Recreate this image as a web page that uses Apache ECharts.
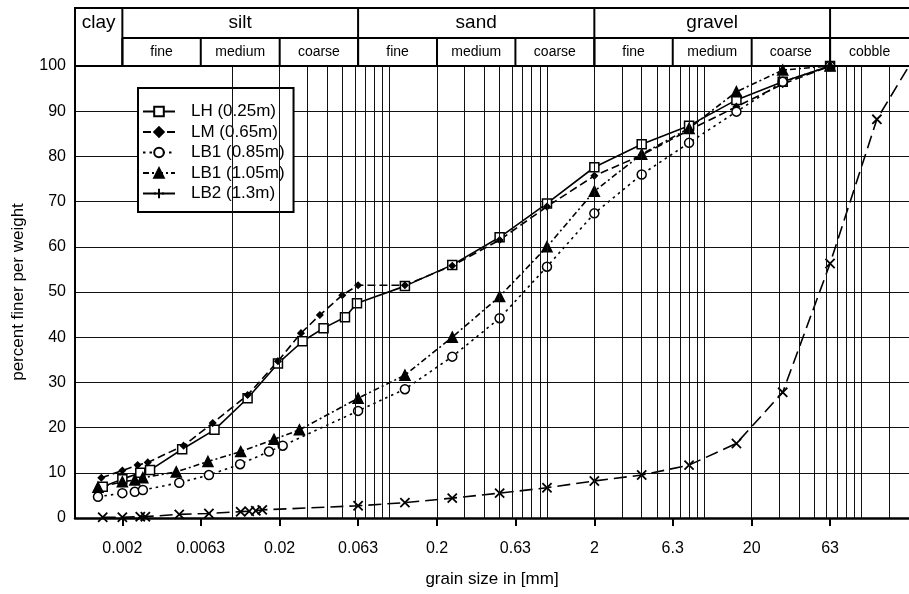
<!DOCTYPE html>
<html><head><meta charset="utf-8">
<script src="https://cdn.jsdelivr.net/npm/echarts@6/dist/echarts.min.js"></script>
<style>html,body{margin:0;padding:0;background:#fff}#c{width:909px;height:594px}</style>
</head><body><div id="c"></div>
<script>
// ---- axis ticks / grid ----
const tickValues = [0.002, 0.0063, 0.02, 0.063, 0.2, 0.63, 2, 6.3, 20, 63];
const tickLabels = ['0.002', '0.0063', '0.02', '0.063', '0.2', '0.63', '2', '6.3', '20', '63'];
const gridValues = [0.002,0.003,0.004,0.005,0.006,0.007,0.008,0.009,
  0.01,0.02,0.03,0.04,0.05,0.06,0.07,0.08,0.09,
  0.1,0.2,0.3,0.4,0.5,0.6,0.7,0.8,0.9,
  1,2,3,4,5,6,7,8,9,
  10,20,30,40,50,60,70,80,90,
  100,150];
// ---- header (soil classes) ----
const mainBounds = [0.002, 0.063, 2, 63];
const mainNames = ['silt', 'sand', 'gravel'];
const subBounds = [0.002, 0.0063, 0.02, 0.063, 0.2, 0.63, 2, 6.3, 20, 63];
const subNames = ['fine','medium','coarse','fine','medium','coarse','fine','medium','coarse'];

// ---- series ----
const lhX = [0.0015,0.002,0.0026,0.003,0.0048,0.0077,0.0125,0.0195,0.028,0.038,0.052,0.062,0.125,0.25,0.5,1,2,4,8,16,31.5,63];
const lhY = [6.9,8.6,10.0,10.6,15.2,19.5,26.5,34.2,39.1,42.0,44.4,47.5,51.3,56.0,62.1,69.6,77.6,82.7,86.8,92.5,96.5,100];

const lmX = [0.00147,0.002,0.0025,0.0029,0.0049,0.0075,0.0125,0.0195,0.0273,0.036,0.05,0.063,0.125,0.25,0.5,1,2,4,8,16,31.5,63];
const lmY = [8.9,10.5,11.7,12.3,16.0,21.0,27.2,34.7,40.9,44.9,49.3,51.5,51.5,55.8,61.5,68.9,75.7,80.3,85.8,91.0,96.0,100];

const lb1aX = [0.0014,0.002,0.0024,0.0027,0.0046,0.0071,0.0112,0.0171,0.0209,0.063,0.125,0.25,0.5,1,2,4,8,16,31.5,63];
const lb1aY = [4.7,5.5,5.8,6.2,7.8,9.5,11.9,14.7,16.0,23.7,28.5,35.7,44.2,55.6,67.4,76.0,83.0,89.9,96.5,100];

const lb1bX = [0.0014,0.002,0.0024,0.0027,0.0044,0.007,0.0113,0.0184,0.0267,0.063,0.125,0.25,0.5,1,2,4,8,16,31.5,63];
const lb1bY = [6.8,8.0,8.4,8.9,10.2,12.5,14.7,17.4,19.5,26.5,31.6,40.0,49.0,60.0,72.3,80.5,86.2,94.3,99.1,100];

const lb2X = [0.0015,0.002,0.0026,0.0028,0.0046,0.0071,0.0113,0.0128,0.0141,0.0155,0.063,0.125,0.25,0.5,1,2,4,8,16,31.5,63,125,200];
const lb2Y = [0.15,0.15,0.3,0.3,0.8,1.0,1.4,1.5,1.6,1.8,2.7,3.4,4.4,5.5,6.7,8.2,9.5,11.7,16.5,27.8,56.3,88.2,100];

const seriesNames = ['LH (0.25m)','LM (0.65m)','LB1 (0.85m)','LB1 (1.05m)','LB2 (1.3m)'];

const FONT = '"Liberation Sans", Arial, Helvetica, sans-serif';
const pairs = (xs, ys) => xs.map((x, i) => [x, ys[i]]);
const PLUS = 'path://M5,0L5,10M0,5L10,5';

function mk(name, data, lineType, symbol, size, fill, extra) {
  return Object.assign({
    name: name, type: 'line', data: data,
    symbol: symbol, symbolSize: size, showSymbol: true,
    lineStyle: { color: '#000', width: 1.6, type: lineType },
    itemStyle: { color: fill, borderColor: '#000', borderWidth: 1.5 },
    emphasis: { disabled: true },
    z: 3, animation: false
  }, extra || {});
}

// last LB2 point lies at the cropped right edge: draw line only
const lb2Data = pairs(lb2X, lb2Y).map((p, i) => i === lb2X.length - 1 ? { value: p, symbol: 'none' } : p);

const chart = echarts.init(document.getElementById('c'), null, { renderer: 'canvas' });

const option = {
  backgroundColor: '#fff',
  animation: false,
  grid: { left: 75, top: 66, width: 839, height: 452, containLabel: false },
  xAxis: {
    type: 'log', logBase: 10, min: 0.001, max: 200,
    name: 'grain size in [mm]', nameLocation: 'middle', nameGap: 53,
    nameTextStyle: { fontSize: 17, color: '#000', fontFamily: FONT },
    axisLine: { show: true, lineStyle: { color: '#000', width: 2.5 } },
    axisTick: { show: true, customValues: tickValues, length: 8, lineStyle: { color: '#000', width: 2 } },
    axisLabel: {
      customValues: tickValues, fontSize: 16, color: '#000', fontFamily: FONT, margin: 23,
      formatter: function (v) {
        for (let i = 0; i < tickValues.length; i++) if (Math.abs(tickValues[i] - v) / tickValues[i] < 1e-4) return tickLabels[i];
        return '';
      }
    },
    splitLine: { show: false }, minorTick: { show: false }, minorSplitLine: { show: false }
  },
  yAxis: {
    type: 'value', min: 0, max: 100, interval: 10,
    name: 'percent finer per weight', nameLocation: 'middle', nameGap: 48,
    nameTextStyle: { fontSize: 17, color: '#000', fontFamily: FONT },
    axisLine: { show: true, lineStyle: { color: '#000', width: 2 } },
    axisTick: { show: false },
    axisLabel: { fontSize: 16, color: '#000', fontFamily: FONT, margin: 9 },
    splitLine: { show: true, lineStyle: { color: '#111', width: 1 } }
  },
  legend: {
    orient: 'vertical', left: 138, top: 88,
    itemWidth: 32, itemHeight: 12, itemGap: 3.5,
    padding: [15, 9, 10, 4],
    backgroundColor: '#fff', borderColor: '#000', borderWidth: 2, borderRadius: 0,
    textStyle: { fontSize: 17, color: '#000', fontFamily: FONT, padding: [0, 0, 0, 11] },
    data: [seriesNames[0], seriesNames[1], seriesNames[2], seriesNames[3], { name: seriesNames[4], symbolRotate: 0 }]
  },
  series: [
    {
      type: 'line', data: [], silent: true, z: 1, animation: false,
      markLine: {
        silent: true, symbol: 'none', animation: false, label: { show: false },
        lineStyle: { color: '#111', width: 1, type: 'solid' },
        emphasis: { disabled: true },
        data: gridValues.map(v => ({ xAxis: v }))
      }
    },
    mk(seriesNames[0], pairs(lhX, lhY), 'solid', 'rect', 9, '#fff'),
    mk(seriesNames[1], pairs(lmX, lmY), [8, 4], 'diamond', 6, '#000'),
    mk(seriesNames[2], pairs(lb1aX, lb1aY), [2.5, 4], 'circle', 9, '#fff'),
    mk(seriesNames[3], pairs(lb1bX, lb1bY), [6, 3, 2, 3], 'triangle', 10, '#000'),
    mk(seriesNames[4], lb2Data, [13, 6], PLUS, 13, 'none', { symbolRotate: 45, itemStyle: { color: 'none', borderColor: '#000', borderWidth: 1.8 } })
  ]
};
chart.setOption(option);

// header table drawn with positions from the x axis scale
function px(v) { return chart.convertToPixel({ xAxisIndex: 0 }, v); }
const yTop = 8, yMid = 38, yBot = chart.convertToPixel({ yAxisIndex: 0 }, 100);
const xLeft = px(0.001), xRight = 930;
const L = (x1, y1, x2, y2) => ({ type: 'line', silent: true, z: 10, shape: { x1, y1, x2, y2 }, style: { stroke: '#000', lineWidth: 2 } });
const T = (text, x, y, size) => ({ type: 'text', silent: true, z: 11, style: { text, x, y, align: 'center', verticalAlign: 'middle', font: size + 'px ' + FONT, fill: '#000' } });
const g = [];
g.push(L(xLeft - 1, yTop, xRight, yTop));
g.push(L(px(mainBounds[0]), yMid, xRight, yMid));
g.push(L(xLeft - 1, yBot, xRight, yBot));
g.push(L(xLeft, yTop, xLeft, yBot));
mainBounds.forEach(b => g.push(L(px(b), yTop, px(b), yBot)));
subBounds.forEach(b => g.push(L(px(b), yMid, px(b), yBot)));
g.push(T('clay', (xLeft + px(mainBounds[0])) / 2, 23, 19));
mainNames.forEach((n, i) => g.push(T(n, (px(mainBounds[i]) + px(mainBounds[i + 1])) / 2, 23, 19)));
subNames.forEach((n, i) => g.push(T(n, (px(subBounds[i]) + px(subBounds[i + 1])) / 2, 52, 14)));
g.push(T('cobble', (px(63) + px(200)) / 2, 52, 14));
chart.setOption({ graphic: g });
</script>
</body></html>
